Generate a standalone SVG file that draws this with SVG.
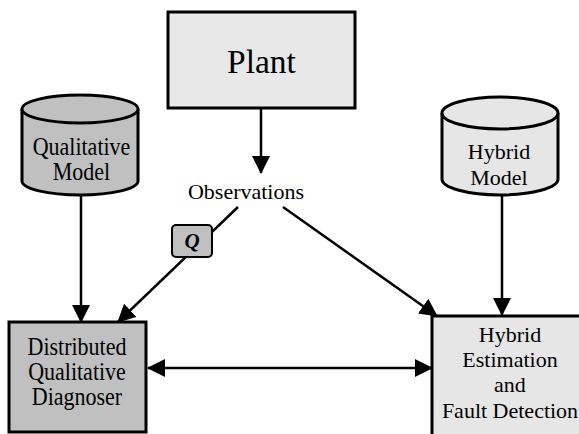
<svg xmlns="http://www.w3.org/2000/svg" width="579" height="434" viewBox="0 0 579 434">
<defs>
<marker id="ah" markerUnits="userSpaceOnUse" markerWidth="18" markerHeight="18" refX="17" refY="9" orient="auto-start-reverse">
<path d="M0,0 L18,9 L0,18 z" fill="#000"/>
</marker>
<style>
.t{font-family:"Liberation Serif","Times New Roman",serif;font-size:22px;fill:#000;text-anchor:middle}
.b{stroke:#000;stroke-width:3}
.c{stroke:#000;stroke-width:2.5;fill:none}
.dark{fill:#c0c0c0}
.light{fill:#e6e6e6}
</style>
</defs>
<rect width="579" height="434" fill="#fff"/>

<g id="plant">
<rect class="b" x="168" y="12" width="187" height="96" fill="#e8e8e8"/>
<text class="t" x="261.5" y="73" style="font-size:33.5px">Plant</text>
</g>

<g id="observations">
<text class="t" x="246" y="199">Observations</text>
</g>

<g id="qualitative-model">
<path class="b dark" d="M22,109 L22,181 A58,14 0 0 0 138,181 L138,109"/>
<ellipse class="b dark" cx="80" cy="109" rx="58" ry="14"/>
<text class="t" transform="translate(81.5,155) scale(1,1.14)">Qualitative</text>
<text class="t" transform="translate(81.5,180) scale(1,1.14)">Model</text>
</g>

<g id="hybrid-model">
<path class="b light" d="M442,113 L442,179 A58,16 0 0 0 558,179 L558,113"/>
<ellipse class="b light" cx="500" cy="113" rx="58" ry="16"/>
<text class="t" x="499" y="159">Hybrid</text>
<text class="t" x="499" y="185">Model</text>
</g>

<g id="diagnoser">
<rect class="b dark" x="9" y="322" width="137" height="110"/>
<text class="t" transform="translate(77,355) scale(1,1.14)">Distributed</text>
<text class="t" transform="translate(77,380) scale(1,1.14)">Qualitative</text>
<text class="t" transform="translate(77,405) scale(1,1.14)">Diagnoser</text>
</g>

<g id="estimation">
<rect class="b light" x="432" y="316" width="160" height="130"/>
<text class="t" x="510" y="342">Hybrid</text>
<text class="t" x="510" y="367">Estimation</text>
<text class="t" x="510" y="392">and</text>
<text class="t" x="510" y="418">Fault Detection</text>
</g>

<g id="connectors">
<line class="c" x1="261" y1="108" x2="261" y2="173" marker-end="url(#ah)"/>
<line class="c" x1="81" y1="195" x2="81" y2="322" marker-end="url(#ah)"/>
<line class="c" x1="502" y1="195" x2="502" y2="315" marker-end="url(#ah)"/>
<line class="c" x1="238" y1="207" x2="118" y2="322" marker-end="url(#ah)"/>
<line class="c" x1="283" y1="207" x2="437" y2="316" marker-end="url(#ah)"/>
<line class="c" x1="148" y1="368" x2="432" y2="368" marker-start="url(#ah)" marker-end="url(#ah)"/>
</g>

<g id="q-label">
<rect x="172" y="225" width="40" height="32" rx="4" fill="#c0c0c0" stroke="#000" stroke-width="2"/>
<text x="192" y="248" style="font-family:'Liberation Serif','Times New Roman',serif;font-size:21px;font-weight:bold;font-style:italic;text-anchor:middle">Q</text>
</g>
</svg>
